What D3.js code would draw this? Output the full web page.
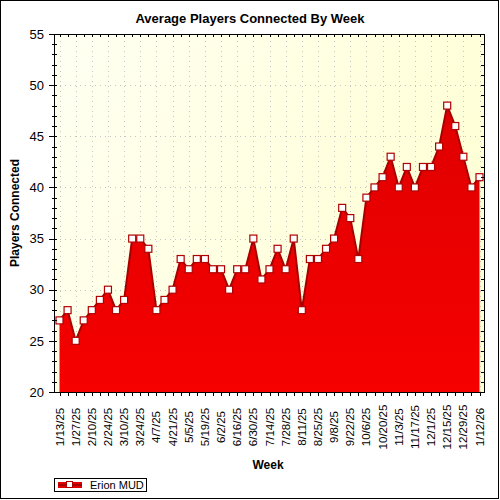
<!DOCTYPE html>
<html>
<head>
<meta charset="utf-8">
<script src="https://cdn.jsdelivr.net/npm/d3@7"></script>
<style>
  html, body { margin: 0; padding: 0; background: #fff; }
  svg { display: block; font-family: "Liberation Sans", Arial, sans-serif; }
</style>
</head>
<body>
<svg id="chart" width="500" height="500"></svg>
<script>
const weeks = ["1/13/25","1/20/25","1/27/25","2/3/25","2/10/25","2/17/25","2/24/25","3/3/25","3/10/25","3/17/25",
  "3/24/25","3/31/25","4/7/25","4/14/25","4/21/25","4/28/25","5/5/25","5/12/25","5/19/25","5/26/25",
  "6/2/25","6/9/25","6/16/25","6/23/25","6/30/25","7/7/25","7/14/25","7/21/25","7/28/25","8/4/25",
  "8/11/25","8/18/25","8/25/25","9/1/25","9/8/25","9/15/25","9/22/25","9/29/25","10/6/25","10/13/25",
  "10/20/25","10/27/25","11/3/25","11/10/25","11/17/25","11/24/25","12/1/25","12/8/25","12/15/25","12/22/25",
  "12/29/25","1/5/26","1/12/26"];
const players = [27,28,25,27,28,29,30,28,29,35,
  35,34,28,29,30,33,32,33,33,32,
  32,30,32,32,35,31,32,34,32,35,
  28,33,33,34,35,38,37,33,39,40,
  41,43,40,42,40,42,42,44,48,46,
  43,40,41];
const tickLabels = weeks.filter((d, i) => i % 2 === 0);
const yMajorTicks = [20,25,30,35,40,45,50,55];
const yMinorTicks = d3.range(20, 56, 1);
const seriesName = "Erion MUD";
const chartTitle = "Average Players Connected By Week";
const xTitle = "Week";
const yTitle = "Players Connected";

const svg = d3.select("#chart");
const L = 54, R = 484, T = 34, B = 392;

const defs = svg.append("defs");
const bg = defs.append("linearGradient").attr("id", "bg")
  .attr("x1", 0).attr("y1", 0).attr("x2", 1).attr("y2", 0.4);
bg.append("stop").attr("offset", "0%").attr("stop-color", "#fffff2");
bg.append("stop").attr("offset", "100%").attr("stop-color", "#ffffd6");
const rg = defs.append("linearGradient").attr("id", "redfill")
  .attr("x1", 0).attr("y1", 0).attr("x2", 0).attr("y2", 1);
rg.append("stop").attr("offset", "0%").attr("stop-color", "#e00000");
rg.append("stop").attr("offset", "100%").attr("stop-color", "#f60000");

// outer border
svg.append("rect").attr("x", 0.5).attr("y", 0.5).attr("width", 498).attr("height", 498)
  .attr("fill", "#fff").attr("stroke", "#000").attr("stroke-width", 1);

const x = d3.scalePoint().domain(weeks).range([59.5, 479.5]);
const y = d3.scaleLinear().domain([20, 55]).range([B, T]);

// plot background
svg.append("rect").attr("x", L).attr("y", T).attr("width", R - L).attr("height", B - T)
  .attr("fill", "url(#bg)");

// grid
const grid = svg.append("g").attr("stroke", "#c4c4c4").attr("stroke-width", 1)
  .attr("stroke-dasharray", "1,4");
grid.selectAll("line.h").data(yMajorTicks.filter(v => v > 20 && v < 55)).join("line")
  .attr("x1", L + 1).attr("x2", R).attr("y1", d => Math.round(y(d)) + 0.5).attr("y2", d => Math.round(y(d)) + 0.5);
grid.selectAll("line.v").data(tickLabels).join("line")
  .attr("x1", d => Math.round(x(d)) + 0.5).attr("x2", d => Math.round(x(d)) + 0.5)
  .attr("y1", T + 2).attr("y2", B);

// area
const area = d3.area().x((d, i) => x(weeks[i])).y0(y(20)).y1(d => y(d));
svg.append("path").datum(players).attr("d", area).attr("fill", "url(#redfill)");
const line = d3.line().x((d, i) => x(weeks[i])).y(d => y(d));
svg.append("path").datum(players).attr("d", line).attr("fill", "none")
  .attr("stroke", "#a80000").attr("stroke-width", 2);
svg.append("g").selectAll("rect").data(players).join("rect")
  .attr("x", (d, i) => x(weeks[i]) - 3.5).attr("y", d => y(d) - 3.5)
  .attr("width", 7).attr("height", 7)
  .attr("fill", "#fff").attr("stroke", "#b00000").attr("stroke-width", 1.2);

// frame
const fr = svg.append("g").attr("stroke", "#000").attr("stroke-width", 1).attr("shape-rendering", "crispEdges");
fr.append("rect").attr("x", L).attr("y", T).attr("width", R - L).attr("height", B - T).attr("fill", "none");
// y ticks left and right
fr.selectAll("line.yl").data(yMinorTicks).join("line")
  .attr("x1", d => (d % 5 === 0) ? L - 5 : L - 2).attr("x2", L + 3)
  .attr("y1", d => Math.round(y(d))).attr("y2", d => Math.round(y(d)));
fr.selectAll("line.yr").data(yMinorTicks).join("line")
  .attr("x1", R - 3).attr("x2", R)
  .attr("y1", d => Math.round(y(d))).attr("y2", d => Math.round(y(d)));
// x ticks bottom and top
fr.selectAll("line.xb").data(weeks).join("line")
  .attr("x1", d => Math.round(x(d))).attr("x2", d => Math.round(x(d)))
  .attr("y1", B).attr("y2", B + 4);
fr.selectAll("line.xt").data(weeks).join("line")
  .attr("x1", d => Math.round(x(d))).attr("x2", d => Math.round(x(d)))
  .attr("y1", T).attr("y2", T + 3);

// y tick labels
svg.append("g").selectAll("text").data(yMajorTicks).join("text")
  .attr("x", 44).attr("y", d => y(d)).attr("dy", "0.36em")
  .attr("text-anchor", "end").attr("font-size", 13).attr("fill", "#000")
  .text(d => d);

// x tick labels
svg.append("g").selectAll("text").data(tickLabels).join("text")
  .attr("transform", d => `translate(${x(d) + 4},427) rotate(-90)`)
  .attr("text-anchor", "middle").attr("font-size", 11.5).attr("fill", "#000")
  .text(d => d);

// titles
svg.append("text").attr("x", 250).attr("y", 23).attr("text-anchor", "middle")
  .attr("font-size", 13).attr("font-weight", "bold").text(chartTitle);
svg.append("text").attr("x", 268).attr("y", 469).attr("text-anchor", "middle")
  .attr("font-size", 12).attr("font-weight", "bold").text(xTitle);
svg.append("text").attr("transform", "translate(19,213) rotate(-90)").attr("text-anchor", "middle")
  .attr("font-size", 12).attr("font-weight", "bold").text(yTitle);

// legend
const lg = svg.append("g");
lg.append("rect").attr("x", 54.5).attr("y", 478.5).attr("width", 92).attr("height", 13)
  .attr("fill", "#fff").attr("stroke", "#000").attr("stroke-width", 1);
lg.append("rect").attr("x", 58).attr("y", 482).attr("width", 24).attr("height", 6).attr("fill", "#e00000");
lg.append("line").attr("x1", 58).attr("x2", 82).attr("y1", 485).attr("y2", 485)
  .attr("stroke", "#a80000").attr("stroke-width", 2);
lg.append("rect").attr("x", 66.5).attr("y", 481.5).attr("width", 6).attr("height", 6)
  .attr("fill", "#fff").attr("stroke", "#b00000").attr("stroke-width", 1);
lg.append("text").attr("x", 90).attr("y", 489).attr("font-size", 11).attr("fill", "#000").text(seriesName);
</script>
</body>
</html>
